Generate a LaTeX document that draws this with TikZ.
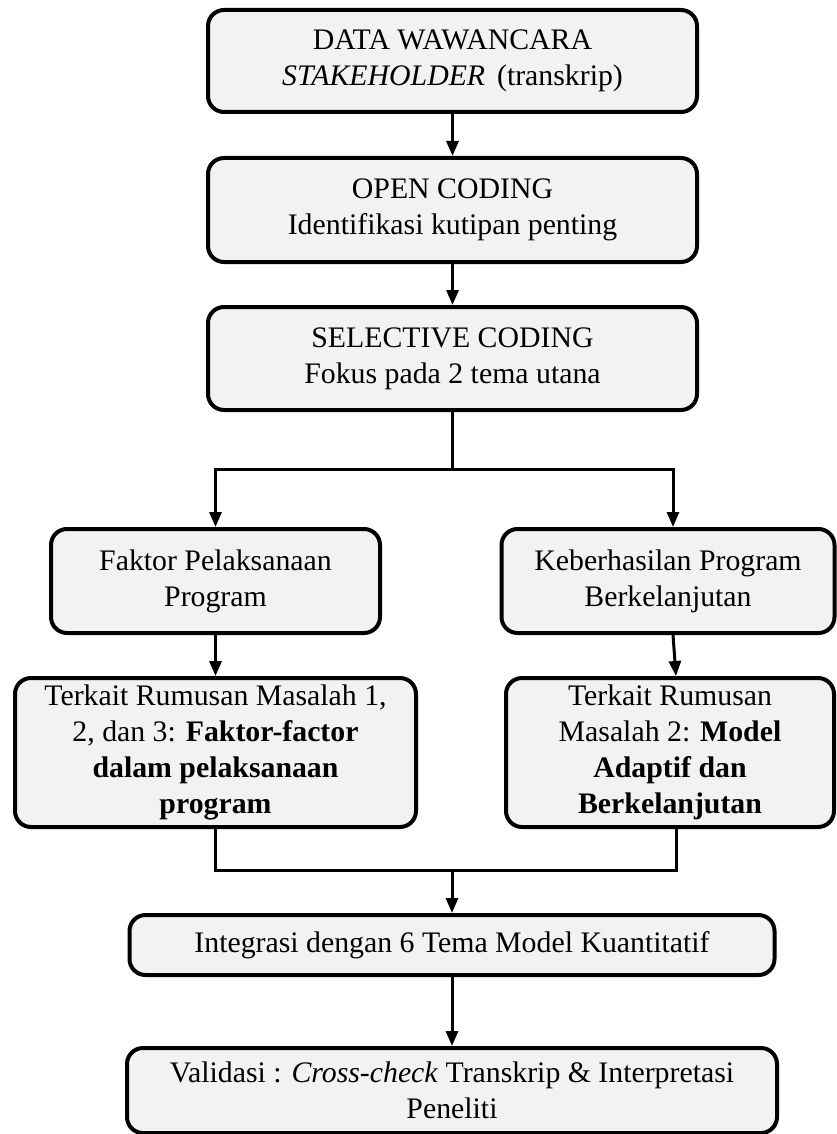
\documentclass[tikz,border=0pt]{standalone}
\usepackage{fontspec}
\setmainfont{Liberation Serif}
\usepackage{tikz}
\usetikzlibrary{arrows.meta,arrows}
\usetikzlibrary{positioning}

\definecolor{boxfill}{HTML}{F2F2F2}

\begin{document}
\begin{tikzpicture}[x=0.5pt,y=-0.5pt]

        \useasboundingbox (0,0) rectangle (836,1134);

        \begin{scope}[every node/.style={rectangle,rounded corners=8pt,draw,line width=2pt,fill=boxfill,align=center,inner sep=2pt,font=\fontsize{14.9}{18}\selectfont}]
            \node[minimum width=244.5pt,minimum height=51pt] (data) at (452.5,61) {DATA WAWANCARA\\ \textit{STAKEHOLDER}\hspace{0.15em} (transkrip)};
            \node[minimum width=244.5pt,minimum height=52pt] (open) at (452.5,210) {OPEN CODING\\ Identifikasi kutipan penting};
            \node[minimum width=244.5pt,minimum height=51.5pt] (sel) at (452.5,358.5) {SELECTIVE CODING\\ Fokus pada 2 tema utana};
            \node[minimum width=164.5pt,minimum height=52pt] (faktor) at (215.5,581) {Faktor Pelaksanaan\\ Program};
            \node[minimum width=166.5pt,minimum height=52pt] (hasil) at (668,581) {Keberhasilan Program\\ Berkelanjutan};
            \node[minimum width=200.5pt,minimum height=74.5pt] (rm1) at (215.5,752.5) {Terkait Rumusan Masalah 1,\\ 2, dan 3: \textbf{Faktor-factor}\\ \textbf{dalam pelaksanaan}\\ \textbf{program}};
            \node[minimum width=164pt,minimum height=74.5pt] (rm2) at (670,752.5) {Terkait Rumusan\\ Masalah 2: \textbf{Model}\\ \textbf{Adaptif dan}\\ \textbf{Berkelanjutan}};
            \node[minimum width=322.5pt,minimum height=30pt] (integ) at (452,945) {Integrasi dengan 6 Tema Model Kuantitatif};
            \node[minimum width=325pt,minimum height=42.5pt] (valid) at (452,1090.5) {Validasi : \textit{Cross-check} Transkrip \& Interpretasi\\ Peneliti};
        \end{scope}

        \coordinate (split) at (452.5,469);
        \coordinate (merge) at (452,870);

        \begin{scope}[line width=1.5pt,>={Triangle[length=7.5pt,width=6pt]}]
            \path [->] (data) edge (open);
            \path [->] (open) edge (sel);
            \draw (sel.south) -- (split);
            \draw [->] (split) -| (faktor.north);
            \draw [->] (split) -| ([xshift=2.5pt]hasil.north);
            \path [->] (faktor) edge (rm1);
            \path [->] ([xshift=2.5pt]hasil.south) edge ([xshift=3pt]rm2.north);
            \draw (rm1.south) |- (merge) -| ([xshift=3pt]rm2.south);
            \path [->] (merge) edge (integ.north);
            \path [->] (integ) edge (valid);
        \end{scope}

    \end{tikzpicture}
\end{document}
